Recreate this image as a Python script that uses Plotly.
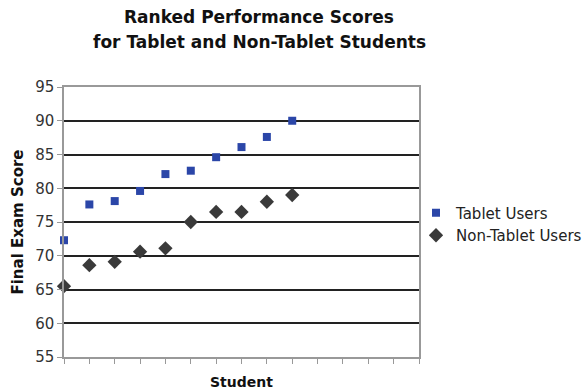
import plotly.graph_objects as go

students = [1, 2, 3, 4, 5, 6, 7, 8, 9, 10]
tablet = [72.3, 77.6, 78.1, 79.6, 82.1, 82.6, 84.6, 86.1, 87.6, 90.0]
non_tablet = [65.5, 68.6, 69.1, 70.6, 71.1, 75.0, 76.5, 76.5, 78.0, 79.0]
y_ticks = [55, 60, 65, 70, 75, 80, 85, 90, 95]
title_lines = ["Ranked Performance Scores", "for Tablet and Non-Tablet Students"]

FONT = "DejaVu Sans, Verdana, sans-serif"
L, R, T, B = 64, 163, 87, 34
W, H = 582, 391
PW, PH = W - L - R, H - T - B

fig = go.Figure()
fig.add_trace(go.Scatter(x=students, y=tablet, mode="markers", name="Tablet Users",
                         cliponaxis=False,
                         marker=dict(symbol="square", size=8, color="#2B46A8")))
fig.add_trace(go.Scatter(x=students, y=non_tablet, mode="markers", name="Non-Tablet Users",
                         cliponaxis=False,
                         marker=dict(symbol="diamond", size=11, color="#3A3A3A")))

for i, (line, yc) in enumerate(zip(title_lines, [17, 42])):
    fig.add_annotation(text="<b>%s</b>" % line, xref="paper", yref="paper",
                       x=(259 - L) / PW, y=(H - B - yc) / PH, xanchor="center", yanchor="middle",
                       showarrow=False, font=dict(family=FONT, size=17, color="#111111"))

fig.update_layout(
    width=W, height=H,
    margin=dict(l=L, r=R, t=T, b=B, autoexpand=False),
    paper_bgcolor="white", plot_bgcolor="white",
    font=dict(family=FONT, size=15, color="#333333"),
    showlegend=True,
    legend=dict(x=(416 - L) / PW, xanchor="left", y=(H - B - 224) / PH, yanchor="middle",
                font=dict(family=FONT, size=15, color="#222222"),
                bgcolor="rgba(0,0,0,0)", itemwidth=30, tracegroupgap=0),
)
fig.update_xaxes(range=[1, 15], dtick=1, tick0=1, showticklabels=False,
                 showgrid=False, zeroline=False,
                 showline=True, linecolor="#999999", linewidth=1.5, mirror=True,
                 ticks="outside", ticklen=5, tickcolor="#999999",
                 title=dict(text="<b>Student</b>", standoff=14,
                            font=dict(family=FONT, size=14, color="#111111")))
fig.update_yaxes(range=[55, 95], tickvals=y_ticks, showgrid=True,
                 gridcolor="#222222", gridwidth=1.5, zeroline=False,
                 showline=True, linecolor="#999999", linewidth=1.5, mirror=True,
                 ticks="outside", ticklen=5, tickcolor="#999999",
                 tickfont=dict(family=FONT, size=15, color="#333333"),
                 title=dict(text="<b>Final Exam Score</b>", standoff=8,
                            font=dict(family=FONT, size=15, color="#111111")))

fig.write_html("out.html")
